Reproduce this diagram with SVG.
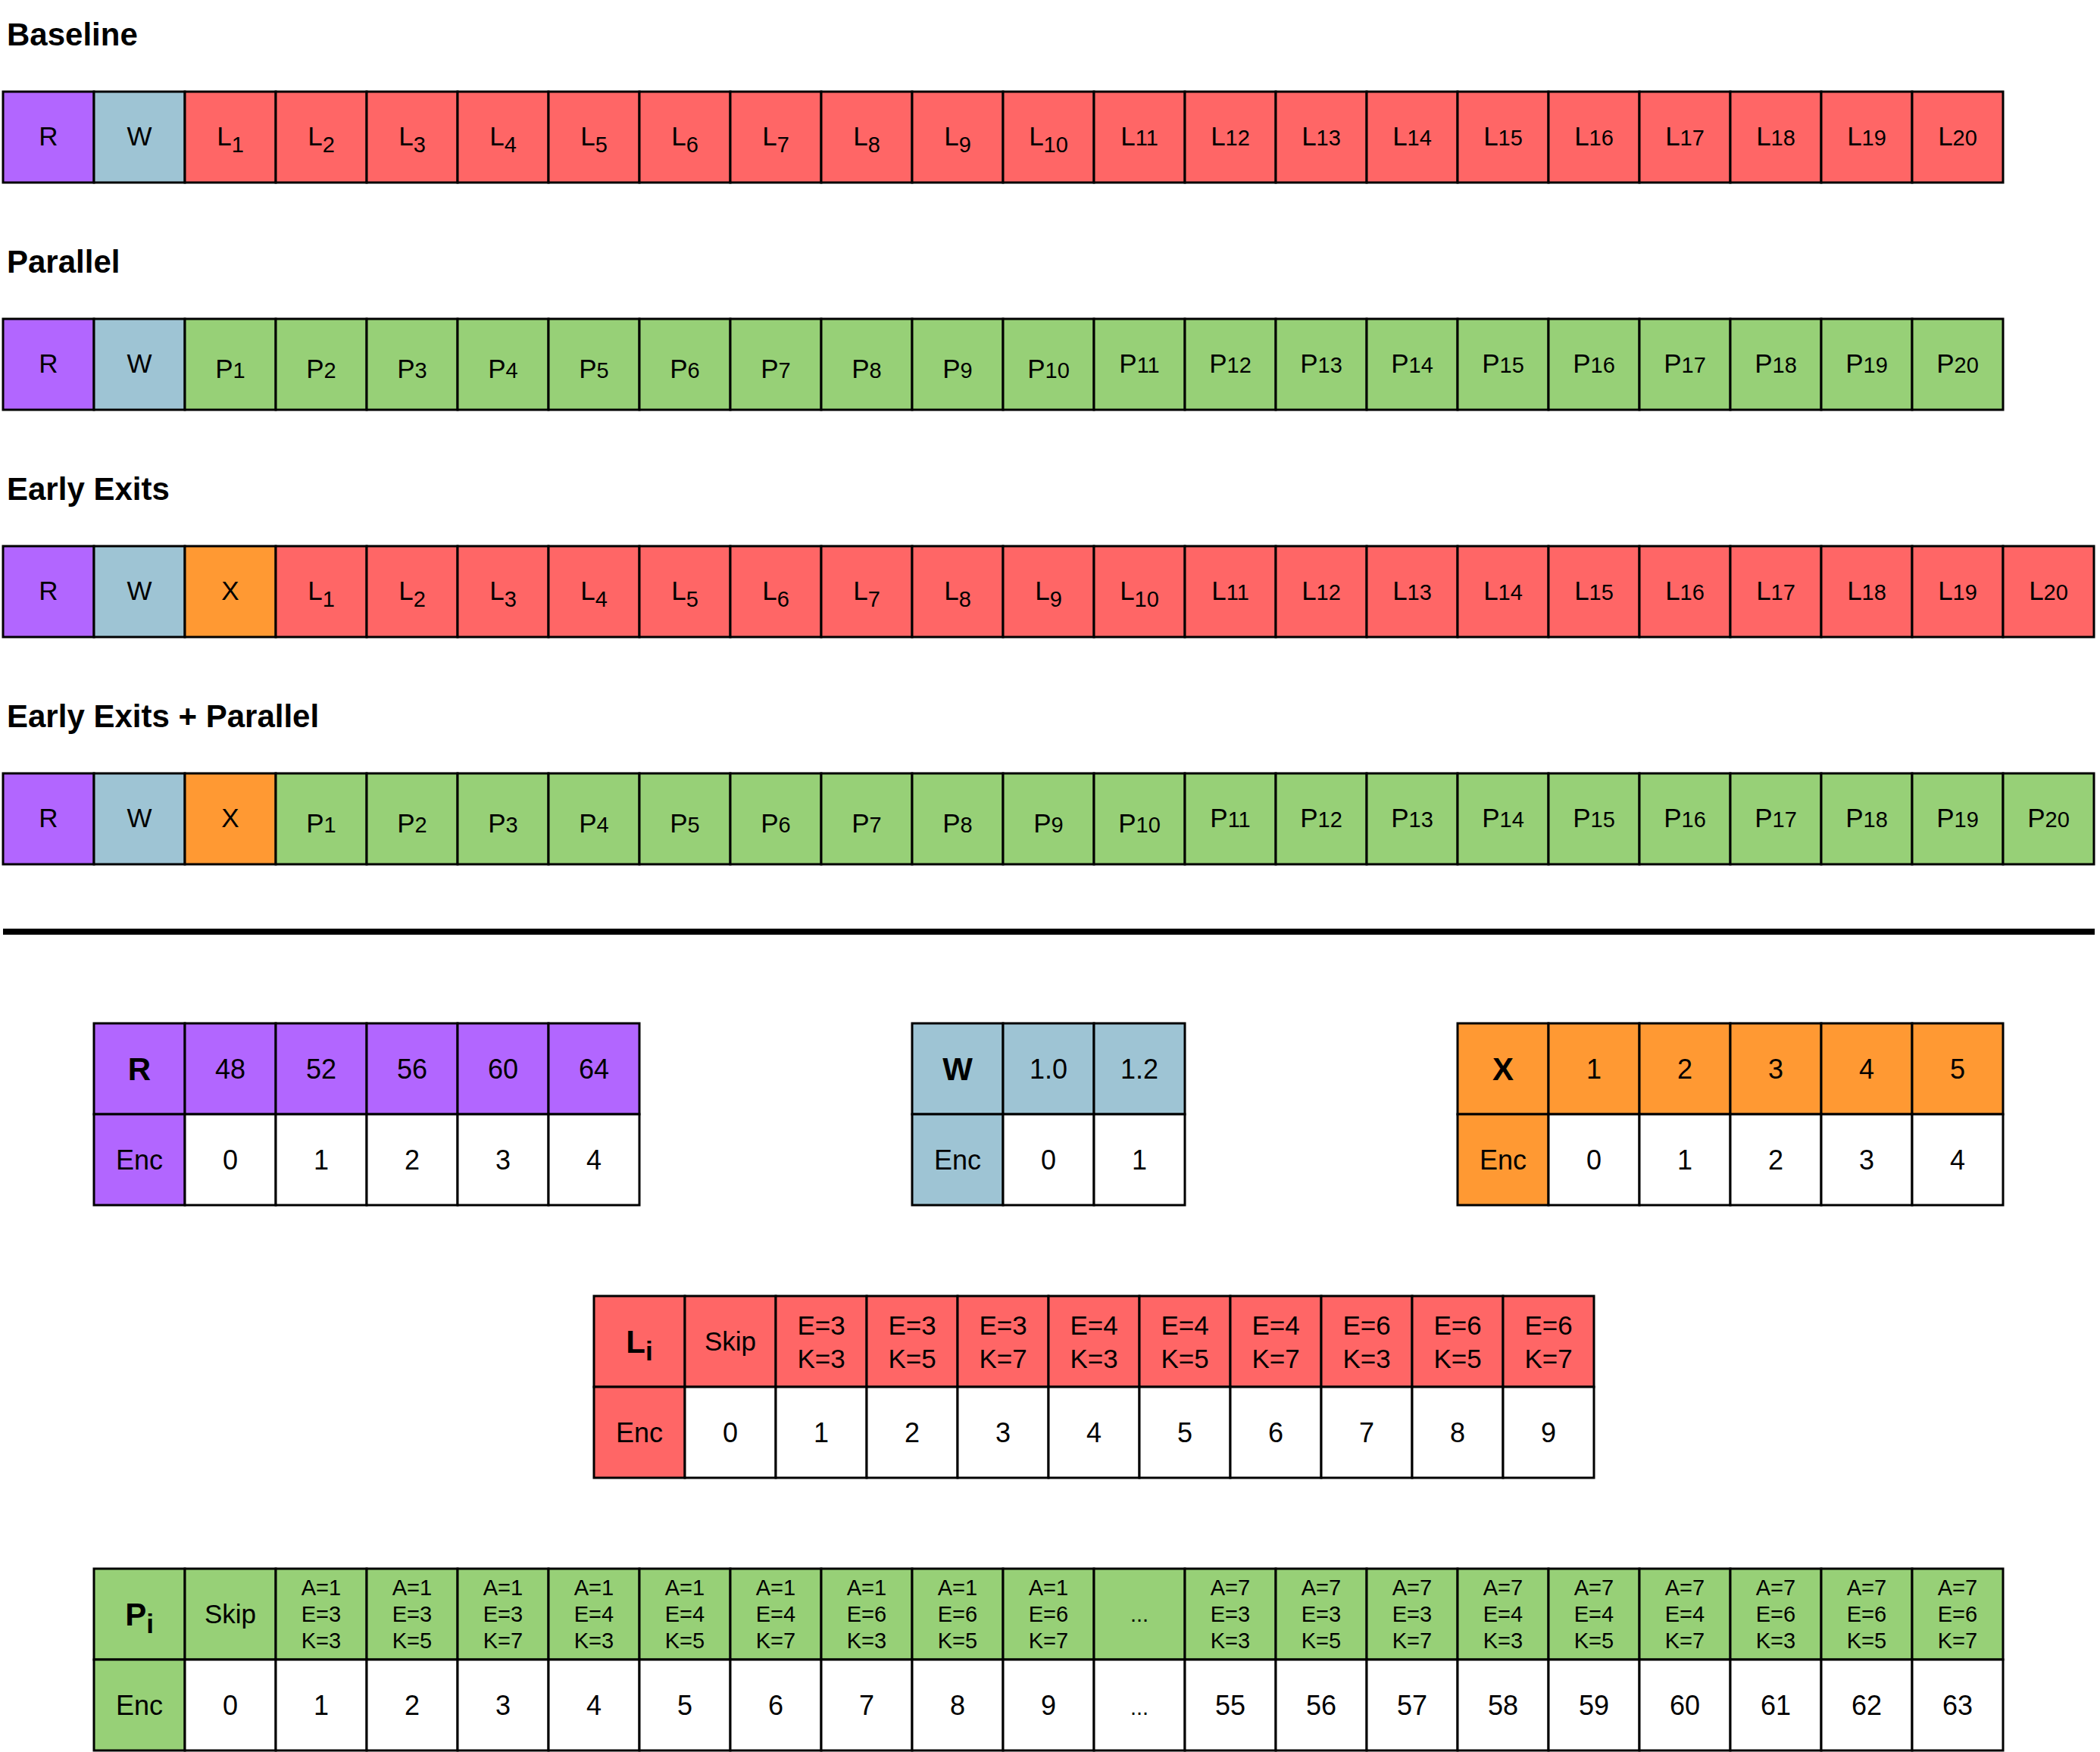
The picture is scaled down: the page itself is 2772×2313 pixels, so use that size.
<svg xmlns="http://www.w3.org/2000/svg" width="2772" height="2313" viewBox="0 0 2772 2313">
<style>
rect{stroke:#000;stroke-width:3}
.pu{fill:#B266FF}.bl{fill:#9EC4D4}.rd{fill:#FF6666}.gr{fill:#97D077}.or{fill:#FF9933}.wh{fill:#FFFFFF}
text{font-family:"Liberation Sans",Arial,sans-serif;fill:#000}
.t{font-size:35px;text-anchor:middle}
.v{font-size:36px;text-anchor:middle}
.m{font-size:35px;text-anchor:middle}
.p{font-size:29px;text-anchor:middle}
.h{font-size:42px;font-weight:bold;text-anchor:middle}
.ti{font-size:42px;font-weight:bold}
.s{font-size:29px}
</style>
<rect x="0" y="0" width="2772" height="2313" fill="#FFFFFF" style="stroke:none"/>

<!-- Titles -->
<g id="titles">
<text class="ti" x="9" y="60">Baseline</text>
<text class="ti" x="9" y="360">Parallel</text>
<text class="ti" x="9" y="660">Early Exits</text>
<text class="ti" x="9" y="960">Early Exits + Parallel</text>
</g>

<!-- Row 1: Baseline -->
<g id="baseline-row">
<g id="b-R"><rect class="pu" x="4" y="121" width="120" height="120"/><text class="t" x="64" y="192">R</text></g>
<g id="b-W"><rect class="bl" x="124" y="121" width="120" height="120"/><text class="t" x="184" y="192">W</text></g>
<g id="b-L1"><rect class="rd" x="244" y="121" width="120" height="120"/><text class="t" x="304" y="192">L<tspan class="s" dy="9">1</tspan></text></g>
<g id="b-L2"><rect class="rd" x="364" y="121" width="120" height="120"/><text class="t" x="424" y="192">L<tspan class="s" dy="9">2</tspan></text></g>
<g id="b-L3"><rect class="rd" x="484" y="121" width="120" height="120"/><text class="t" x="544" y="192">L<tspan class="s" dy="9">3</tspan></text></g>
<g id="b-L4"><rect class="rd" x="604" y="121" width="120" height="120"/><text class="t" x="664" y="192">L<tspan class="s" dy="9">4</tspan></text></g>
<g id="b-L5"><rect class="rd" x="724" y="121" width="120" height="120"/><text class="t" x="784" y="192">L<tspan class="s" dy="9">5</tspan></text></g>
<g id="b-L6"><rect class="rd" x="844" y="121" width="120" height="120"/><text class="t" x="904" y="192">L<tspan class="s" dy="9">6</tspan></text></g>
<g id="b-L7"><rect class="rd" x="964" y="121" width="120" height="120"/><text class="t" x="1024" y="192">L<tspan class="s" dy="9">7</tspan></text></g>
<g id="b-L8"><rect class="rd" x="1084" y="121" width="120" height="120"/><text class="t" x="1144" y="192">L<tspan class="s" dy="9">8</tspan></text></g>
<g id="b-L9"><rect class="rd" x="1204" y="121" width="120" height="120"/><text class="t" x="1264" y="192">L<tspan class="s" dy="9">9</tspan></text></g>
<g id="b-L10"><rect class="rd" x="1324" y="121" width="120" height="120"/><text class="t" x="1384" y="192">L<tspan class="s" dy="9">10</tspan></text></g>
<g id="b-L11"><rect class="rd" x="1444" y="121" width="120" height="120"/><text class="t" x="1504" y="192">L<tspan class="s">11</tspan></text></g>
<g id="b-L12"><rect class="rd" x="1564" y="121" width="120" height="120"/><text class="t" x="1624" y="192">L<tspan class="s">12</tspan></text></g>
<g id="b-L13"><rect class="rd" x="1684" y="121" width="120" height="120"/><text class="t" x="1744" y="192">L<tspan class="s">13</tspan></text></g>
<g id="b-L14"><rect class="rd" x="1804" y="121" width="120" height="120"/><text class="t" x="1864" y="192">L<tspan class="s">14</tspan></text></g>
<g id="b-L15"><rect class="rd" x="1924" y="121" width="120" height="120"/><text class="t" x="1984" y="192">L<tspan class="s">15</tspan></text></g>
<g id="b-L16"><rect class="rd" x="2044" y="121" width="120" height="120"/><text class="t" x="2104" y="192">L<tspan class="s">16</tspan></text></g>
<g id="b-L17"><rect class="rd" x="2164" y="121" width="120" height="120"/><text class="t" x="2224" y="192">L<tspan class="s">17</tspan></text></g>
<g id="b-L18"><rect class="rd" x="2284" y="121" width="120" height="120"/><text class="t" x="2344" y="192">L<tspan class="s">18</tspan></text></g>
<g id="b-L19"><rect class="rd" x="2404" y="121" width="120" height="120"/><text class="t" x="2464" y="192">L<tspan class="s">19</tspan></text></g>
<g id="b-L20"><rect class="rd" x="2524" y="121" width="120" height="120"/><text class="t" x="2584" y="192">L<tspan class="s">20</tspan></text></g>
</g>

<!-- Row 2: Parallel -->
<g id="parallel-row">
<g id="p-R"><rect class="pu" x="4" y="421" width="120" height="120"/><text class="t" x="64" y="492">R</text></g>
<g id="p-W"><rect class="bl" x="124" y="421" width="120" height="120"/><text class="t" x="184" y="492">W</text></g>
<g id="p-P1"><rect class="gr" x="244" y="421" width="120" height="120"/><text class="t" x="304" y="499">P<tspan class="s">1</tspan></text></g>
<g id="p-P2"><rect class="gr" x="364" y="421" width="120" height="120"/><text class="t" x="424" y="499">P<tspan class="s">2</tspan></text></g>
<g id="p-P3"><rect class="gr" x="484" y="421" width="120" height="120"/><text class="t" x="544" y="499">P<tspan class="s">3</tspan></text></g>
<g id="p-P4"><rect class="gr" x="604" y="421" width="120" height="120"/><text class="t" x="664" y="499">P<tspan class="s">4</tspan></text></g>
<g id="p-P5"><rect class="gr" x="724" y="421" width="120" height="120"/><text class="t" x="784" y="499">P<tspan class="s">5</tspan></text></g>
<g id="p-P6"><rect class="gr" x="844" y="421" width="120" height="120"/><text class="t" x="904" y="499">P<tspan class="s">6</tspan></text></g>
<g id="p-P7"><rect class="gr" x="964" y="421" width="120" height="120"/><text class="t" x="1024" y="499">P<tspan class="s">7</tspan></text></g>
<g id="p-P8"><rect class="gr" x="1084" y="421" width="120" height="120"/><text class="t" x="1144" y="499">P<tspan class="s">8</tspan></text></g>
<g id="p-P9"><rect class="gr" x="1204" y="421" width="120" height="120"/><text class="t" x="1264" y="499">P<tspan class="s">9</tspan></text></g>
<g id="p-P10"><rect class="gr" x="1324" y="421" width="120" height="120"/><text class="t" x="1384" y="499">P<tspan class="s">10</tspan></text></g>
<g id="p-P11"><rect class="gr" x="1444" y="421" width="120" height="120"/><text class="t" x="1504" y="492">P<tspan class="s">11</tspan></text></g>
<g id="p-P12"><rect class="gr" x="1564" y="421" width="120" height="120"/><text class="t" x="1624" y="492">P<tspan class="s">12</tspan></text></g>
<g id="p-P13"><rect class="gr" x="1684" y="421" width="120" height="120"/><text class="t" x="1744" y="492">P<tspan class="s">13</tspan></text></g>
<g id="p-P14"><rect class="gr" x="1804" y="421" width="120" height="120"/><text class="t" x="1864" y="492">P<tspan class="s">14</tspan></text></g>
<g id="p-P15"><rect class="gr" x="1924" y="421" width="120" height="120"/><text class="t" x="1984" y="492">P<tspan class="s">15</tspan></text></g>
<g id="p-P16"><rect class="gr" x="2044" y="421" width="120" height="120"/><text class="t" x="2104" y="492">P<tspan class="s">16</tspan></text></g>
<g id="p-P17"><rect class="gr" x="2164" y="421" width="120" height="120"/><text class="t" x="2224" y="492">P<tspan class="s">17</tspan></text></g>
<g id="p-P18"><rect class="gr" x="2284" y="421" width="120" height="120"/><text class="t" x="2344" y="492">P<tspan class="s">18</tspan></text></g>
<g id="p-P19"><rect class="gr" x="2404" y="421" width="120" height="120"/><text class="t" x="2464" y="492">P<tspan class="s">19</tspan></text></g>
<g id="p-P20"><rect class="gr" x="2524" y="421" width="120" height="120"/><text class="t" x="2584" y="492">P<tspan class="s">20</tspan></text></g>
</g>

<!-- Row 3: Early Exits -->
<g id="earlyexits-row">
<g id="e-R"><rect class="pu" x="4" y="721" width="120" height="120"/><text class="t" x="64" y="792">R</text></g>
<g id="e-W"><rect class="bl" x="124" y="721" width="120" height="120"/><text class="t" x="184" y="792">W</text></g>
<g id="e-X"><rect class="or" x="244" y="721" width="120" height="120"/><text class="t" x="304" y="792">X</text></g>
<g id="e-L1"><rect class="rd" x="364" y="721" width="120" height="120"/><text class="t" x="424" y="792">L<tspan class="s" dy="9">1</tspan></text></g>
<g id="e-L2"><rect class="rd" x="484" y="721" width="120" height="120"/><text class="t" x="544" y="792">L<tspan class="s" dy="9">2</tspan></text></g>
<g id="e-L3"><rect class="rd" x="604" y="721" width="120" height="120"/><text class="t" x="664" y="792">L<tspan class="s" dy="9">3</tspan></text></g>
<g id="e-L4"><rect class="rd" x="724" y="721" width="120" height="120"/><text class="t" x="784" y="792">L<tspan class="s" dy="9">4</tspan></text></g>
<g id="e-L5"><rect class="rd" x="844" y="721" width="120" height="120"/><text class="t" x="904" y="792">L<tspan class="s" dy="9">5</tspan></text></g>
<g id="e-L6"><rect class="rd" x="964" y="721" width="120" height="120"/><text class="t" x="1024" y="792">L<tspan class="s" dy="9">6</tspan></text></g>
<g id="e-L7"><rect class="rd" x="1084" y="721" width="120" height="120"/><text class="t" x="1144" y="792">L<tspan class="s" dy="9">7</tspan></text></g>
<g id="e-L8"><rect class="rd" x="1204" y="721" width="120" height="120"/><text class="t" x="1264" y="792">L<tspan class="s" dy="9">8</tspan></text></g>
<g id="e-L9"><rect class="rd" x="1324" y="721" width="120" height="120"/><text class="t" x="1384" y="792">L<tspan class="s" dy="9">9</tspan></text></g>
<g id="e-L10"><rect class="rd" x="1444" y="721" width="120" height="120"/><text class="t" x="1504" y="792">L<tspan class="s" dy="9">10</tspan></text></g>
<g id="e-L11"><rect class="rd" x="1564" y="721" width="120" height="120"/><text class="t" x="1624" y="792">L<tspan class="s">11</tspan></text></g>
<g id="e-L12"><rect class="rd" x="1684" y="721" width="120" height="120"/><text class="t" x="1744" y="792">L<tspan class="s">12</tspan></text></g>
<g id="e-L13"><rect class="rd" x="1804" y="721" width="120" height="120"/><text class="t" x="1864" y="792">L<tspan class="s">13</tspan></text></g>
<g id="e-L14"><rect class="rd" x="1924" y="721" width="120" height="120"/><text class="t" x="1984" y="792">L<tspan class="s">14</tspan></text></g>
<g id="e-L15"><rect class="rd" x="2044" y="721" width="120" height="120"/><text class="t" x="2104" y="792">L<tspan class="s">15</tspan></text></g>
<g id="e-L16"><rect class="rd" x="2164" y="721" width="120" height="120"/><text class="t" x="2224" y="792">L<tspan class="s">16</tspan></text></g>
<g id="e-L17"><rect class="rd" x="2284" y="721" width="120" height="120"/><text class="t" x="2344" y="792">L<tspan class="s">17</tspan></text></g>
<g id="e-L18"><rect class="rd" x="2404" y="721" width="120" height="120"/><text class="t" x="2464" y="792">L<tspan class="s">18</tspan></text></g>
<g id="e-L19"><rect class="rd" x="2524" y="721" width="120" height="120"/><text class="t" x="2584" y="792">L<tspan class="s">19</tspan></text></g>
<g id="e-L20"><rect class="rd" x="2644" y="721" width="120" height="120"/><text class="t" x="2704" y="792">L<tspan class="s">20</tspan></text></g>
</g>

<!-- Row 4: Early Exits + Parallel -->
<g id="earlyexits-parallel-row">
<g id="ep-R"><rect class="pu" x="4" y="1021" width="120" height="120"/><text class="t" x="64" y="1092">R</text></g>
<g id="ep-W"><rect class="bl" x="124" y="1021" width="120" height="120"/><text class="t" x="184" y="1092">W</text></g>
<g id="ep-X"><rect class="or" x="244" y="1021" width="120" height="120"/><text class="t" x="304" y="1092">X</text></g>
<g id="ep-P1"><rect class="gr" x="364" y="1021" width="120" height="120"/><text class="t" x="424" y="1099">P<tspan class="s">1</tspan></text></g>
<g id="ep-P2"><rect class="gr" x="484" y="1021" width="120" height="120"/><text class="t" x="544" y="1099">P<tspan class="s">2</tspan></text></g>
<g id="ep-P3"><rect class="gr" x="604" y="1021" width="120" height="120"/><text class="t" x="664" y="1099">P<tspan class="s">3</tspan></text></g>
<g id="ep-P4"><rect class="gr" x="724" y="1021" width="120" height="120"/><text class="t" x="784" y="1099">P<tspan class="s">4</tspan></text></g>
<g id="ep-P5"><rect class="gr" x="844" y="1021" width="120" height="120"/><text class="t" x="904" y="1099">P<tspan class="s">5</tspan></text></g>
<g id="ep-P6"><rect class="gr" x="964" y="1021" width="120" height="120"/><text class="t" x="1024" y="1099">P<tspan class="s">6</tspan></text></g>
<g id="ep-P7"><rect class="gr" x="1084" y="1021" width="120" height="120"/><text class="t" x="1144" y="1099">P<tspan class="s">7</tspan></text></g>
<g id="ep-P8"><rect class="gr" x="1204" y="1021" width="120" height="120"/><text class="t" x="1264" y="1099">P<tspan class="s">8</tspan></text></g>
<g id="ep-P9"><rect class="gr" x="1324" y="1021" width="120" height="120"/><text class="t" x="1384" y="1099">P<tspan class="s">9</tspan></text></g>
<g id="ep-P10"><rect class="gr" x="1444" y="1021" width="120" height="120"/><text class="t" x="1504" y="1099">P<tspan class="s">10</tspan></text></g>
<g id="ep-P11"><rect class="gr" x="1564" y="1021" width="120" height="120"/><text class="t" x="1624" y="1092">P<tspan class="s">11</tspan></text></g>
<g id="ep-P12"><rect class="gr" x="1684" y="1021" width="120" height="120"/><text class="t" x="1744" y="1092">P<tspan class="s">12</tspan></text></g>
<g id="ep-P13"><rect class="gr" x="1804" y="1021" width="120" height="120"/><text class="t" x="1864" y="1092">P<tspan class="s">13</tspan></text></g>
<g id="ep-P14"><rect class="gr" x="1924" y="1021" width="120" height="120"/><text class="t" x="1984" y="1092">P<tspan class="s">14</tspan></text></g>
<g id="ep-P15"><rect class="gr" x="2044" y="1021" width="120" height="120"/><text class="t" x="2104" y="1092">P<tspan class="s">15</tspan></text></g>
<g id="ep-P16"><rect class="gr" x="2164" y="1021" width="120" height="120"/><text class="t" x="2224" y="1092">P<tspan class="s">16</tspan></text></g>
<g id="ep-P17"><rect class="gr" x="2284" y="1021" width="120" height="120"/><text class="t" x="2344" y="1092">P<tspan class="s">17</tspan></text></g>
<g id="ep-P18"><rect class="gr" x="2404" y="1021" width="120" height="120"/><text class="t" x="2464" y="1092">P<tspan class="s">18</tspan></text></g>
<g id="ep-P19"><rect class="gr" x="2524" y="1021" width="120" height="120"/><text class="t" x="2584" y="1092">P<tspan class="s">19</tspan></text></g>
<g id="ep-P20"><rect class="gr" x="2644" y="1021" width="120" height="120"/><text class="t" x="2704" y="1092">P<tspan class="s">20</tspan></text></g>
</g>

<!-- Separator -->
<g id="connectors">
<line x1="4" y1="1230" x2="2765" y2="1230" stroke="#000" stroke-width="8"/>
</g>

<!-- R table -->
<g id="table-R">
<rect class="pu" x="124" y="1351" width="120" height="120"/><text class="h" x="184" y="1426">R</text>
<rect class="pu" x="244" y="1351" width="120" height="120"/><text class="v" x="304" y="1424">48</text>
<rect class="pu" x="364" y="1351" width="120" height="120"/><text class="v" x="424" y="1424">52</text>
<rect class="pu" x="484" y="1351" width="120" height="120"/><text class="v" x="544" y="1424">56</text>
<rect class="pu" x="604" y="1351" width="120" height="120"/><text class="v" x="664" y="1424">60</text>
<rect class="pu" x="724" y="1351" width="120" height="120"/><text class="v" x="784" y="1424">64</text>
<rect class="pu" x="124" y="1471" width="120" height="120"/><text class="v" x="184" y="1544">Enc</text>
<rect class="wh" x="244" y="1471" width="120" height="120"/><text class="v" x="304" y="1544">0</text>
<rect class="wh" x="364" y="1471" width="120" height="120"/><text class="v" x="424" y="1544">1</text>
<rect class="wh" x="484" y="1471" width="120" height="120"/><text class="v" x="544" y="1544">2</text>
<rect class="wh" x="604" y="1471" width="120" height="120"/><text class="v" x="664" y="1544">3</text>
<rect class="wh" x="724" y="1471" width="120" height="120"/><text class="v" x="784" y="1544">4</text>
</g>

<!-- W table -->
<g id="table-W">
<rect class="bl" x="1204" y="1351" width="120" height="120"/><text class="h" x="1264" y="1426">W</text>
<rect class="bl" x="1324" y="1351" width="120" height="120"/><text class="v" x="1384" y="1424">1.0</text>
<rect class="bl" x="1444" y="1351" width="120" height="120"/><text class="v" x="1504" y="1424">1.2</text>
<rect class="bl" x="1204" y="1471" width="120" height="120"/><text class="v" x="1264" y="1544">Enc</text>
<rect class="wh" x="1324" y="1471" width="120" height="120"/><text class="v" x="1384" y="1544">0</text>
<rect class="wh" x="1444" y="1471" width="120" height="120"/><text class="v" x="1504" y="1544">1</text>
</g>

<!-- X table -->
<g id="table-X">
<rect class="or" x="1924" y="1351" width="120" height="120"/><text class="h" x="1984" y="1426">X</text>
<rect class="or" x="2044" y="1351" width="120" height="120"/><text class="v" x="2104" y="1424">1</text>
<rect class="or" x="2164" y="1351" width="120" height="120"/><text class="v" x="2224" y="1424">2</text>
<rect class="or" x="2284" y="1351" width="120" height="120"/><text class="v" x="2344" y="1424">3</text>
<rect class="or" x="2404" y="1351" width="120" height="120"/><text class="v" x="2464" y="1424">4</text>
<rect class="or" x="2524" y="1351" width="120" height="120"/><text class="v" x="2584" y="1424">5</text>
<rect class="or" x="1924" y="1471" width="120" height="120"/><text class="v" x="1984" y="1544">Enc</text>
<rect class="wh" x="2044" y="1471" width="120" height="120"/><text class="v" x="2104" y="1544">0</text>
<rect class="wh" x="2164" y="1471" width="120" height="120"/><text class="v" x="2224" y="1544">1</text>
<rect class="wh" x="2284" y="1471" width="120" height="120"/><text class="v" x="2344" y="1544">2</text>
<rect class="wh" x="2404" y="1471" width="120" height="120"/><text class="v" x="2464" y="1544">3</text>
<rect class="wh" x="2524" y="1471" width="120" height="120"/><text class="v" x="2584" y="1544">4</text>
</g>

<!-- Li table -->
<g id="table-Li">
<rect class="rd" x="784" y="1711" width="120" height="120"/><text class="h" x="844" y="1786">L<tspan font-size="35" dy="10">i</tspan></text>
<rect class="rd" x="904" y="1711" width="120" height="120"/><text class="m" x="964" y="1783">Skip</text>
<rect class="rd" x="1024" y="1711" width="120" height="120"/><text class="m" x="1084" y="1762">E=3</text><text class="m" x="1084" y="1806">K=3</text>
<rect class="rd" x="1144" y="1711" width="120" height="120"/><text class="m" x="1204" y="1762">E=3</text><text class="m" x="1204" y="1806">K=5</text>
<rect class="rd" x="1264" y="1711" width="120" height="120"/><text class="m" x="1324" y="1762">E=3</text><text class="m" x="1324" y="1806">K=7</text>
<rect class="rd" x="1384" y="1711" width="120" height="120"/><text class="m" x="1444" y="1762">E=4</text><text class="m" x="1444" y="1806">K=3</text>
<rect class="rd" x="1504" y="1711" width="120" height="120"/><text class="m" x="1564" y="1762">E=4</text><text class="m" x="1564" y="1806">K=5</text>
<rect class="rd" x="1624" y="1711" width="120" height="120"/><text class="m" x="1684" y="1762">E=4</text><text class="m" x="1684" y="1806">K=7</text>
<rect class="rd" x="1744" y="1711" width="120" height="120"/><text class="m" x="1804" y="1762">E=6</text><text class="m" x="1804" y="1806">K=3</text>
<rect class="rd" x="1864" y="1711" width="120" height="120"/><text class="m" x="1924" y="1762">E=6</text><text class="m" x="1924" y="1806">K=5</text>
<rect class="rd" x="1984" y="1711" width="120" height="120"/><text class="m" x="2044" y="1762">E=6</text><text class="m" x="2044" y="1806">K=7</text>
<rect class="rd" x="784" y="1831" width="120" height="120"/><text class="v" x="844" y="1904">Enc</text>
<rect class="wh" x="904" y="1831" width="120" height="120"/><text class="v" x="964" y="1904">0</text>
<rect class="wh" x="1024" y="1831" width="120" height="120"/><text class="v" x="1084" y="1904">1</text>
<rect class="wh" x="1144" y="1831" width="120" height="120"/><text class="v" x="1204" y="1904">2</text>
<rect class="wh" x="1264" y="1831" width="120" height="120"/><text class="v" x="1324" y="1904">3</text>
<rect class="wh" x="1384" y="1831" width="120" height="120"/><text class="v" x="1444" y="1904">4</text>
<rect class="wh" x="1504" y="1831" width="120" height="120"/><text class="v" x="1564" y="1904">5</text>
<rect class="wh" x="1624" y="1831" width="120" height="120"/><text class="v" x="1684" y="1904">6</text>
<rect class="wh" x="1744" y="1831" width="120" height="120"/><text class="v" x="1804" y="1904">7</text>
<rect class="wh" x="1864" y="1831" width="120" height="120"/><text class="v" x="1924" y="1904">8</text>
<rect class="wh" x="1984" y="1831" width="120" height="120"/><text class="v" x="2044" y="1904">9</text>
</g>

<!-- Pi table -->
<g id="table-Pi">
<rect class="gr" x="124" y="2071" width="120" height="120"/><text class="h" x="184" y="2146">P<tspan font-size="35" dy="10">i</tspan></text>
<rect class="gr" x="244" y="2071" width="120" height="120"/><text class="m" x="304" y="2143">Skip</text>
<rect class="gr" x="364" y="2071" width="120" height="120"/><text class="p" x="424" y="2106">A=1</text><text class="p" x="424" y="2141">E=3</text><text class="p" x="424" y="2176">K=3</text>
<rect class="gr" x="484" y="2071" width="120" height="120"/><text class="p" x="544" y="2106">A=1</text><text class="p" x="544" y="2141">E=3</text><text class="p" x="544" y="2176">K=5</text>
<rect class="gr" x="604" y="2071" width="120" height="120"/><text class="p" x="664" y="2106">A=1</text><text class="p" x="664" y="2141">E=3</text><text class="p" x="664" y="2176">K=7</text>
<rect class="gr" x="724" y="2071" width="120" height="120"/><text class="p" x="784" y="2106">A=1</text><text class="p" x="784" y="2141">E=4</text><text class="p" x="784" y="2176">K=3</text>
<rect class="gr" x="844" y="2071" width="120" height="120"/><text class="p" x="904" y="2106">A=1</text><text class="p" x="904" y="2141">E=4</text><text class="p" x="904" y="2176">K=5</text>
<rect class="gr" x="964" y="2071" width="120" height="120"/><text class="p" x="1024" y="2106">A=1</text><text class="p" x="1024" y="2141">E=4</text><text class="p" x="1024" y="2176">K=7</text>
<rect class="gr" x="1084" y="2071" width="120" height="120"/><text class="p" x="1144" y="2106">A=1</text><text class="p" x="1144" y="2141">E=6</text><text class="p" x="1144" y="2176">K=3</text>
<rect class="gr" x="1204" y="2071" width="120" height="120"/><text class="p" x="1264" y="2106">A=1</text><text class="p" x="1264" y="2141">E=6</text><text class="p" x="1264" y="2176">K=5</text>
<rect class="gr" x="1324" y="2071" width="120" height="120"/><text class="p" x="1384" y="2106">A=1</text><text class="p" x="1384" y="2141">E=6</text><text class="p" x="1384" y="2176">K=7</text>
<rect class="gr" x="1444" y="2071" width="120" height="120"/><text class="p" x="1504" y="2141">...</text>
<rect class="gr" x="1564" y="2071" width="120" height="120"/><text class="p" x="1624" y="2106">A=7</text><text class="p" x="1624" y="2141">E=3</text><text class="p" x="1624" y="2176">K=3</text>
<rect class="gr" x="1684" y="2071" width="120" height="120"/><text class="p" x="1744" y="2106">A=7</text><text class="p" x="1744" y="2141">E=3</text><text class="p" x="1744" y="2176">K=5</text>
<rect class="gr" x="1804" y="2071" width="120" height="120"/><text class="p" x="1864" y="2106">A=7</text><text class="p" x="1864" y="2141">E=3</text><text class="p" x="1864" y="2176">K=7</text>
<rect class="gr" x="1924" y="2071" width="120" height="120"/><text class="p" x="1984" y="2106">A=7</text><text class="p" x="1984" y="2141">E=4</text><text class="p" x="1984" y="2176">K=3</text>
<rect class="gr" x="2044" y="2071" width="120" height="120"/><text class="p" x="2104" y="2106">A=7</text><text class="p" x="2104" y="2141">E=4</text><text class="p" x="2104" y="2176">K=5</text>
<rect class="gr" x="2164" y="2071" width="120" height="120"/><text class="p" x="2224" y="2106">A=7</text><text class="p" x="2224" y="2141">E=4</text><text class="p" x="2224" y="2176">K=7</text>
<rect class="gr" x="2284" y="2071" width="120" height="120"/><text class="p" x="2344" y="2106">A=7</text><text class="p" x="2344" y="2141">E=6</text><text class="p" x="2344" y="2176">K=3</text>
<rect class="gr" x="2404" y="2071" width="120" height="120"/><text class="p" x="2464" y="2106">A=7</text><text class="p" x="2464" y="2141">E=6</text><text class="p" x="2464" y="2176">K=5</text>
<rect class="gr" x="2524" y="2071" width="120" height="120"/><text class="p" x="2584" y="2106">A=7</text><text class="p" x="2584" y="2141">E=6</text><text class="p" x="2584" y="2176">K=7</text>
<rect class="gr" x="124" y="2191" width="120" height="120"/><text class="v" x="184" y="2264">Enc</text>
<rect class="wh" x="244" y="2191" width="120" height="120"/><text class="v" x="304" y="2264">0</text>
<rect class="wh" x="364" y="2191" width="120" height="120"/><text class="v" x="424" y="2264">1</text>
<rect class="wh" x="484" y="2191" width="120" height="120"/><text class="v" x="544" y="2264">2</text>
<rect class="wh" x="604" y="2191" width="120" height="120"/><text class="v" x="664" y="2264">3</text>
<rect class="wh" x="724" y="2191" width="120" height="120"/><text class="v" x="784" y="2264">4</text>
<rect class="wh" x="844" y="2191" width="120" height="120"/><text class="v" x="904" y="2264">5</text>
<rect class="wh" x="964" y="2191" width="120" height="120"/><text class="v" x="1024" y="2264">6</text>
<rect class="wh" x="1084" y="2191" width="120" height="120"/><text class="v" x="1144" y="2264">7</text>
<rect class="wh" x="1204" y="2191" width="120" height="120"/><text class="v" x="1264" y="2264">8</text>
<rect class="wh" x="1324" y="2191" width="120" height="120"/><text class="v" x="1384" y="2264">9</text>
<rect class="wh" x="1444" y="2191" width="120" height="120"/><text class="p" x="1504" y="2264">...</text>
<rect class="wh" x="1564" y="2191" width="120" height="120"/><text class="v" x="1624" y="2264">55</text>
<rect class="wh" x="1684" y="2191" width="120" height="120"/><text class="v" x="1744" y="2264">56</text>
<rect class="wh" x="1804" y="2191" width="120" height="120"/><text class="v" x="1864" y="2264">57</text>
<rect class="wh" x="1924" y="2191" width="120" height="120"/><text class="v" x="1984" y="2264">58</text>
<rect class="wh" x="2044" y="2191" width="120" height="120"/><text class="v" x="2104" y="2264">59</text>
<rect class="wh" x="2164" y="2191" width="120" height="120"/><text class="v" x="2224" y="2264">60</text>
<rect class="wh" x="2284" y="2191" width="120" height="120"/><text class="v" x="2344" y="2264">61</text>
<rect class="wh" x="2404" y="2191" width="120" height="120"/><text class="v" x="2464" y="2264">62</text>
<rect class="wh" x="2524" y="2191" width="120" height="120"/><text class="v" x="2584" y="2264">63</text>
</g>
</svg>
